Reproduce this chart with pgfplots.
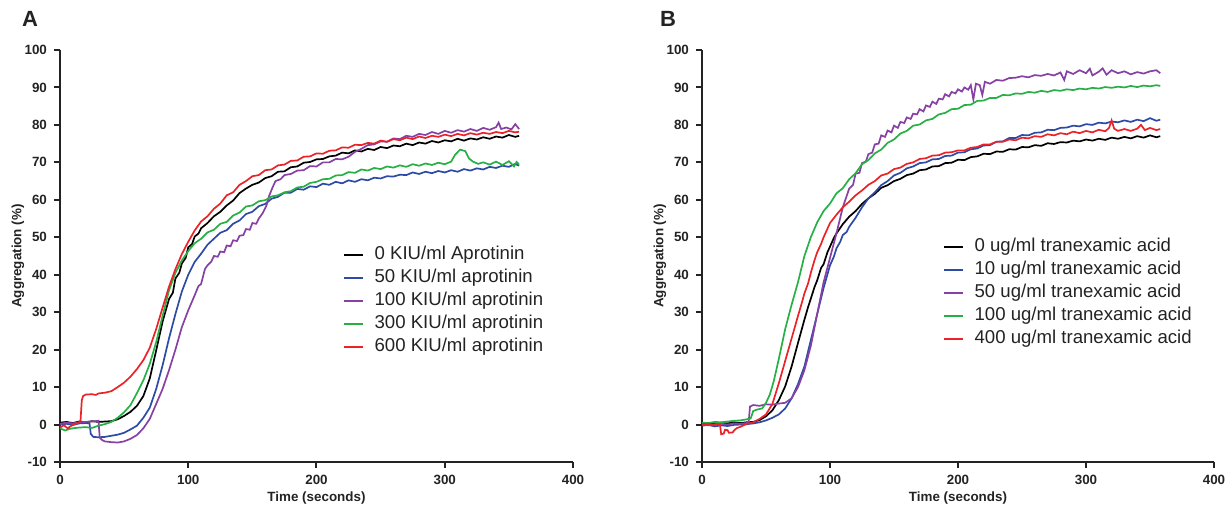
\documentclass[border=0pt]{standalone}
\usepackage{fontspec}
\setmainfont{Liberation Sans}
\usepackage{pgfplots}
\pgfplotsset{compat=1.18}

\definecolor{cblue}{RGB}{45,75,165}
\definecolor{cpurple}{RGB}{135,65,165}
\definecolor{cgreen}{RGB}{40,175,70}
\definecolor{cred}{RGB}{235,35,40}
\definecolor{ink}{RGB}{35,35,35}

\pgfplotsset{
  aggr/.style={
    scale only axis,
    width=256.5pt, height=206pt,
    anchor=south west,
    xmin=0, xmax=400, ymin=-10, ymax=100,
    xtick={0,100,200,300,400},
    ytick={-10,0,10,20,30,40,50,60,70,80,90,100},
    axis x line=bottom, axis y line=left,
    axis line style={-, line width=1pt, ink},
    tick style={line width=1pt, ink},
    tick align=outside, major tick length=3pt,
    /pgf/number format/assume math mode=true,
    ticklabel style={font=\bfseries\fontsize{6.7}{7}\selectfont, text=ink},
    label style={font=\bfseries\fontsize{6.7}{7}\selectfont, text=ink},
    xlabel={Time (seconds)},
    ylabel={Aggregation (\%)},
    xlabel style={at={(axis description cs:0.5,-0.088)}, anchor=center},
    ylabel style={at={(axis description cs:-0.082,0.5)}, anchor=center},
    every axis plot/.append style={line width=0.85pt},
    legend cell align=left,
    legend image code/.code={\draw[#1, line width=1pt] (0pt,0pt) -- (9.5pt,0pt);},
    legend style={draw=none, fill=none, inner sep=0pt, outer sep=0pt,
      anchor=north west, row sep=0pt,
      font=\fontsize{9.3}{10}\selectfont, text=ink,
      nodes={minimum height=11.5pt, inner ysep=0pt, inner xsep=0pt, text height=6.8pt, text depth=2pt},
      /tikz/every odd column/.append style={column sep=5.3pt}},
  }
}

\begin{document}
\begin{tikzpicture}
\useasboundingbox (0,0) rectangle (613.5pt,253.5pt);

\node[font=\bfseries\fontsize{11}{11}\selectfont, text=ink] at (15pt,244pt) {A};
\node[font=\bfseries\fontsize{11}{11}\selectfont, text=ink] at (334pt,244pt) {B};

% panel A: aprotinin
\begin{axis}[aggr, at={(30pt,22.5pt)},
  legend style={at={(axis description cs:0.5517,0.5307)}}]
\addplot[black] coordinates {(0,0.5)(5,0.7)(10,0.4)(15,0.8)(20,0.6)(25,0.9)(30,0.7)(35,0.8)(40,0.9)(45,1.4)(50,2.3)(55,3.4)(60,5.0)(65,7.6)(70,12.3)(75,19.8)(80,27.5)(85,33.5)(88,35.2)(90,39.0)(93,40.5)(95,43.0)(98,44.5)(100,47.3)(103,48.2)(105,50.2)(108,51.0)(110,52.4)(115,53.8)(120,55.6)(125,56.8)(130,58.5)(135,59.8)(140,61.8)(145,63.0)(150,64.0)(155,64.6)(160,65.8)(165,66.3)(170,67.5)(175,67.6)(180,68.7)(185,68.9)(190,69.9)(195,70.1)(200,70.8)(205,70.9)(210,71.6)(215,71.8)(220,72.6)(225,72.4)(230,73.2)(235,72.9)(240,73.6)(245,73.3)(250,74.1)(255,73.8)(260,74.5)(265,74.3)(270,75.0)(275,74.6)(280,75.3)(285,75.0)(290,75.7)(295,75.3)(300,75.9)(305,75.6)(310,76.3)(315,75.8)(320,76.4)(325,76.1)(330,76.7)(335,76.3)(340,76.9)(345,76.6)(350,77.3)(355,76.8)(358,77.1)};
\addlegendentry{0 KIU/ml Aprotinin}
\addplot[cblue] coordinates {(0,0.0)(5,0.2)(10,-0.1)(15,0.3)(20,0.4)(23,0.3)(24,-2.5)(26,-3.3)(30,-3.4)(35,-3.3)(40,-3.0)(45,-2.7)(50,-2.2)(55,-1.3)(60,-0.3)(65,1.8)(70,4.5)(75,9.5)(80,15.8)(85,23.0)(90,29.5)(95,35.5)(100,40.0)(105,43.4)(110,45.6)(115,48.0)(120,49.6)(125,51.2)(130,51.9)(135,53.6)(140,54.5)(145,56.2)(150,56.8)(155,58.3)(160,58.9)(165,60.3)(170,60.8)(175,61.9)(180,61.9)(185,62.9)(190,62.7)(195,63.6)(200,63.4)(205,64.3)(210,64.0)(215,64.8)(220,64.4)(225,65.2)(230,64.8)(235,65.5)(240,65.2)(245,65.9)(250,65.7)(255,66.3)(260,66.2)(265,66.7)(270,66.6)(275,67.3)(280,66.9)(285,67.5)(290,67.1)(295,67.7)(300,67.3)(305,67.9)(310,67.5)(315,68.2)(320,67.8)(325,68.4)(330,68.1)(335,68.8)(340,68.5)(345,69.1)(350,68.8)(355,69.6)(358,69.1)};
\addlegendentry{50 KIU/ml aprotinin}
\addplot[cpurple] coordinates {(0,0.2)(5,0.5)(10,0.3)(15,0.6)(20,0.7)(25,0.8)(30,1.0)(31,-3.5)(33,-4.2)(35,-4.5)(40,-4.7)(45,-4.8)(50,-4.5)(55,-3.8)(60,-2.8)(65,-1.0)(70,1.5)(75,5.5)(80,9.5)(85,14.5)(90,20.0)(95,26.0)(100,30.5)(105,34.5)(108,37.0)(110,37.5)(113,41.5)(115,42.5)(118,43.5)(120,45.0)(123,44.8)(125,46.2)(128,46.0)(130,47.8)(133,47.6)(135,49.2)(138,49.0)(140,50.4)(143,50.6)(145,52.2)(148,52.0)(150,53.8)(153,53.6)(155,55.0)(158,56.4)(161,58.5)(163,61.0)(166,63.5)(168,65.0)(172,65.5)(175,66.6)(180,66.9)(185,67.8)(190,67.9)(195,69.0)(200,68.9)(205,70.0)(210,70.0)(215,70.9)(220,70.8)(225,71.5)(230,72.8)(235,73.6)(240,74.6)(245,74.8)(250,75.6)(255,75.5)(260,76.4)(265,76.2)(270,77.1)(275,76.8)(280,77.6)(285,77.3)(290,78.1)(295,77.6)(300,78.4)(305,77.9)(310,78.6)(315,78.2)(320,78.9)(325,78.4)(330,79.2)(335,78.7)(340,79.4)(342,80.6)(344,78.9)(348,79.3)(352,78.8)(355,80.2)(358,78.9)};
\addlegendentry{100 KIU/ml aprotinin}
\addplot[cgreen] coordinates {(0,-1.0)(4,-1.6)(7,-1.2)(10,-1.0)(15,-0.8)(20,-0.7)(25,-0.9)(30,-0.3)(35,0.1)(40,0.7)(45,1.8)(50,3.3)(55,5.2)(60,8.4)(65,11.8)(70,16.2)(75,22.0)(80,29.0)(85,35.8)(90,40.5)(95,43.8)(100,46.3)(105,48.4)(110,49.6)(115,51.3)(120,52.0)(125,53.6)(130,54.1)(135,55.8)(140,56.6)(145,58.2)(150,58.5)(155,59.6)(160,59.9)(165,60.9)(170,61.2)(175,62.0)(180,62.3)(185,63.3)(190,63.5)(195,64.5)(200,64.8)(205,65.5)(210,65.6)(215,66.5)(220,66.6)(225,67.4)(230,67.2)(235,68.1)(240,67.8)(245,68.5)(250,68.2)(255,68.9)(260,68.6)(265,69.2)(270,68.8)(275,69.5)(280,69.1)(285,69.7)(290,69.3)(295,69.9)(300,69.5)(305,70.2)(308,72.0)(312,73.4)(316,73.0)(319,71.0)(322,70.2)(326,69.6)(330,70.0)(335,69.4)(340,70.2)(345,69.3)(350,70.3)(354,68.9)(356,70.1)(358,69.4)};
\addlegendentry{300 KIU/ml aprotinin}
\addplot[cred] coordinates {(0,-0.8)(3,-0.2)(6,-1.0)(9,-0.3)(12,0.2)(15,0.6)(16,1.0)(17,6.5)(18,7.6)(20,8.0)(25,8.1)(28,7.9)(30,8.3)(35,8.5)(40,8.9)(45,10.0)(50,11.2)(55,12.8)(60,14.8)(65,17.2)(70,20.5)(75,25.5)(80,31.2)(85,36.8)(90,41.5)(95,45.5)(100,48.8)(105,51.8)(110,54.2)(115,55.6)(120,57.6)(125,59.0)(130,61.2)(135,62.0)(140,64.0)(145,65.0)(150,66.3)(155,66.6)(160,67.9)(165,68.1)(170,69.2)(175,69.4)(180,70.4)(185,70.5)(190,71.5)(195,71.6)(200,72.4)(205,72.3)(210,73.1)(215,73.2)(220,74.0)(225,73.9)(230,74.7)(235,74.6)(240,75.2)(245,75.0)(250,75.8)(255,75.5)(260,76.2)(265,75.9)(270,76.6)(275,76.2)(280,76.9)(285,76.5)(290,77.1)(295,76.8)(300,77.4)(305,77.0)(310,77.6)(315,77.2)(320,77.8)(325,77.4)(330,77.9)(335,77.6)(340,78.1)(345,77.8)(350,78.4)(355,78.0)(358,78.2)};
\addlegendentry{600 KIU/ml aprotinin}
\end{axis}

% panel B: tranexamic acid
\begin{axis}[aggr, at={(351pt,22.5pt)}, width=256pt,
  legend style={at={(axis description cs:0.4707,0.5507)}}]
\addplot[black] coordinates {(0,0.2)(5,0.4)(10,0.1)(15,0.5)(20,0.3)(25,0.6)(30,0.4)(35,0.6)(40,0.7)(45,1.2)(50,2.2)(55,3.8)(60,6.5)(65,10.2)(70,15.5)(75,21.8)(80,28.0)(83,31.5)(85,33.6)(88,36.8)(90,38.5)(93,41.8)(95,42.8)(98,46.0)(100,47.5)(103,49.8)(105,51.0)(110,53.5)(115,55.5)(120,57.0)(125,58.9)(130,60.4)(135,61.6)(140,63.2)(145,63.9)(150,65.0)(155,65.6)(160,66.6)(165,67.0)(170,67.9)(175,68.1)(180,68.9)(185,69.0)(190,69.8)(195,69.9)(200,70.7)(205,70.6)(210,71.4)(215,71.6)(220,72.3)(225,72.2)(230,72.9)(235,72.8)(240,73.5)(245,73.4)(250,74.1)(255,74.0)(260,74.6)(265,74.4)(270,75.1)(275,74.9)(280,75.4)(285,75.3)(290,75.8)(295,75.6)(300,76.1)(305,75.8)(310,76.3)(315,76.0)(320,76.6)(325,76.3)(330,76.8)(335,76.4)(340,77.0)(345,76.6)(350,77.2)(355,76.7)(358,77.0)};
\addlegendentry{0 ug/ml tranexamic acid}
\addplot[cblue] coordinates {(0,-0.3)(5,-0.1)(10,-0.5)(15,-0.2)(20,-0.4)(25,-0.1)(30,0.0)(35,0.1)(40,0.3)(45,0.6)(50,1.1)(55,1.8)(60,2.7)(65,4.3)(70,7.0)(75,10.8)(80,15.5)(85,22.5)(90,29.5)(95,36.5)(100,42.5)(103,44.8)(105,47.0)(108,48.8)(110,50.6)(113,51.4)(115,52.8)(120,55.2)(125,58.0)(130,60.4)(135,62.0)(140,63.9)(145,65.0)(150,66.5)(155,67.2)(160,68.4)(165,68.9)(170,69.8)(175,70.0)(180,70.8)(185,70.9)(190,71.7)(195,71.8)(200,72.6)(205,72.7)(210,73.5)(215,73.7)(220,74.5)(225,74.6)(230,75.5)(235,75.6)(240,76.5)(245,76.5)(250,77.3)(255,77.2)(260,77.9)(265,78.0)(270,78.7)(275,78.6)(280,79.2)(285,79.3)(290,79.8)(295,79.6)(300,80.2)(305,80.0)(310,80.6)(315,80.4)(320,80.9)(325,80.7)(330,81.2)(335,80.8)(340,81.4)(345,81.0)(350,81.8)(355,81.1)(358,81.4)};
\addlegendentry{10 ug/ml tranexamic acid}
\addplot[cpurple] coordinates {(0,0.0)(5,-0.2)(10,0.1)(15,0.2)(20,0.0)(25,0.3)(30,0.2)(35,0.4)(36.5,0.8)(37.5,4.8)(40,5.2)(45,5.0)(50,5.4)(55,5.3)(60,5.6)(65,5.8)(70,7.0)(75,10.0)(80,14.5)(85,21.0)(90,29.5)(95,38.0)(100,44.5)(105,51.0)(110,58.0)(113,61.0)(115,63.0)(118,64.0)(120,67.0)(123,67.2)(125,69.8)(128,70.2)(130,72.2)(133,72.6)(135,74.8)(138,75.0)(140,77.2)(143,76.8)(145,78.5)(148,78.0)(150,79.8)(153,79.2)(155,80.8)(158,80.5)(160,82.0)(163,81.6)(165,83.0)(168,82.8)(170,84.2)(173,83.6)(175,85.2)(178,84.8)(180,86.2)(183,85.6)(185,87.0)(188,86.8)(190,88.2)(193,87.6)(195,88.8)(198,88.4)(200,89.5)(203,88.9)(205,90.0)(208,89.4)(210,90.6)(212,86.8)(214,91.0)(217,90.6)(219,88.0)(221,91.5)(225,91.0)(230,92.0)(235,91.8)(240,92.5)(245,92.6)(250,93.0)(255,92.7)(260,93.3)(265,93.1)(270,93.6)(275,93.2)(280,94.0)(283,92.0)(285,94.3)(290,93.6)(295,94.6)(300,93.8)(303,95.0)(305,93.2)(310,94.2)(313,95.1)(316,93.4)(320,94.6)(325,93.8)(330,94.3)(335,93.5)(340,94.1)(345,93.7)(350,94.3)(355,94.6)(358,93.8)};
\addlegendentry{50 ug/ml tranexamic acid}
\addplot[cgreen] coordinates {(0,0.5)(5,0.4)(10,0.7)(15,0.6)(20,0.8)(25,1.0)(30,1.1)(35,1.4)(38,1.6)(40,3.6)(43,4.0)(47,4.3)(50,5.8)(53,8.0)(56,11.5)(60,17.5)(65,25.5)(70,32.0)(75,38.0)(80,45.0)(85,50.0)(90,54.0)(95,57.0)(100,59.0)(105,61.7)(110,63.1)(115,65.5)(120,67.1)(125,69.5)(130,70.6)(135,72.4)(140,73.4)(145,75.2)(150,76.1)(155,77.7)(160,78.4)(165,79.8)(170,80.1)(175,81.2)(180,81.6)(185,82.8)(190,83.2)(195,84.2)(200,84.3)(205,85.3)(210,85.4)(215,86.4)(220,86.5)(225,87.2)(230,87.2)(235,88.0)(240,87.9)(245,88.4)(250,88.3)(255,88.8)(260,88.6)(265,89.1)(270,88.8)(275,89.3)(280,89.1)(285,89.5)(290,89.3)(295,89.7)(300,89.5)(305,89.9)(310,89.7)(315,90.1)(320,89.9)(325,90.2)(330,90.0)(335,90.4)(340,90.1)(345,90.5)(350,90.3)(355,90.6)(358,90.4)};
\addlegendentry{100 ug/ml tranexamic acid}
\addplot[cred] coordinates {(0,0.0)(5,0.2)(10,-0.2)(14,0.1)(15,-2.6)(17,-2.4)(18,-1.4)(20,-1.5)(21,-2.2)(24,-2.1)(25,-1.6)(27,-1.0)(30,-0.6)(35,0.2)(40,0.6)(45,1.5)(50,2.7)(55,5.5)(60,11.0)(65,17.0)(70,23.0)(75,29.0)(78,32.5)(80,35.0)(83,37.8)(85,40.5)(88,44.0)(90,46.0)(93,48.2)(95,50.0)(100,53.8)(105,56.0)(110,58.0)(115,59.5)(120,61.2)(125,62.5)(130,64.0)(135,65.0)(140,66.5)(145,67.0)(150,68.2)(155,68.6)(160,69.6)(165,70.0)(170,70.9)(175,71.1)(180,71.8)(185,71.9)(190,72.6)(195,72.7)(200,73.2)(205,73.2)(210,73.9)(215,74.1)(220,74.8)(225,74.8)(230,75.5)(235,75.5)(240,76.1)(245,75.9)(250,76.6)(255,76.4)(260,77.0)(265,76.8)(270,77.5)(275,77.2)(280,77.8)(285,77.5)(290,78.2)(295,77.8)(300,78.4)(305,78.0)(310,78.7)(315,78.3)(318,79.2)(320,81.2)(322,79.0)(325,78.4)(330,78.9)(335,78.4)(340,79.0)(343,80.0)(346,78.6)(350,79.2)(355,78.6)(358,78.9)};
\addlegendentry{400 ug/ml tranexamic acid}
\end{axis}
\end{tikzpicture}
\end{document}
